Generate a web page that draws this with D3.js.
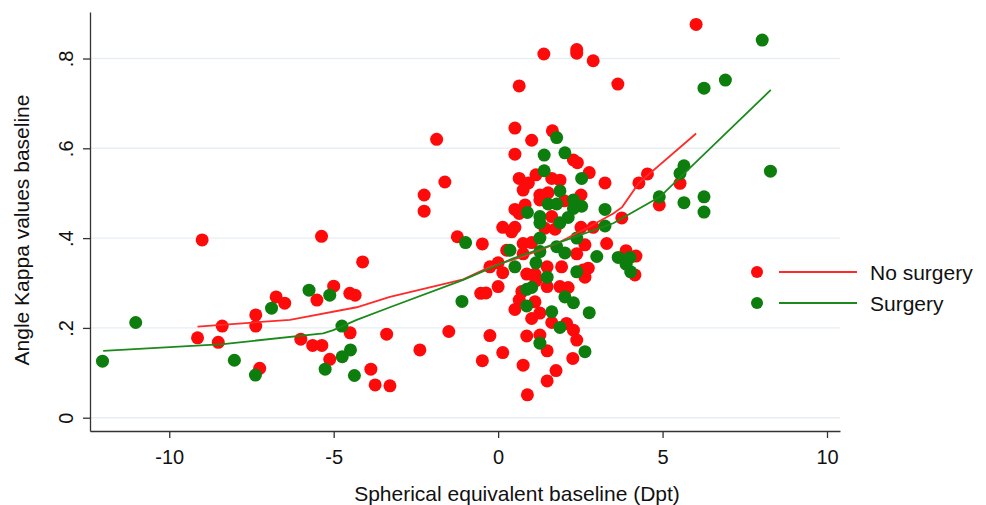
<!DOCTYPE html>
<html>
<head>
<meta charset="utf-8">
<script src="https://cdn.jsdelivr.net/npm/d3@7"></script>
<style>
	body { margin: 0; background: #fff; }
	text { font-family: "Liberation Sans", Arial, Helvetica, sans-serif; fill: #111; }
</style>
</head>
<body>
<div id="chart"></div>
<script>
	//tick values and labels
	var xTicks = [-10, -5, 0, 5, 10];
	var yTicks = [0, 0.2, 0.4, 0.6, 0.8];
	var yTickLabels = ["0", ".2", ".4", ".6", ".8"];

	//series names
	var seriesNames = ["No surgery", "Surgery"];

	//no surgery: [spherical equivalent, angle kappa]
	var noSurgeryPts = [
		[-9.00,0.396],[-9.14,0.178],[-8.39,0.204],[-8.51,0.168],[-7.37,0.229],[-7.37,0.204],[-7.25,0.110],
		[-6.75,0.269],[-6.49,0.255],[-5.51,0.262],[-5.37,0.404],[-5.00,0.293],[-4.51,0.277],[-4.35,0.273],
		[-4.12,0.347],[-6.00,0.175],[-5.64,0.161],[-5.36,0.161],[-5.12,0.130],[-4.50,0.189],[-3.87,0.108],
		[-3.74,0.073],[-3.39,0.186],[-3.29,0.071],[-1.87,0.620],[-1.62,0.525],[-2.25,0.496],[-2.25,0.460],
		[-1.24,0.403],[-0.48,0.387],[-1.50,0.192],[-2.38,0.151],[-0.25,0.183],[-0.48,0.127],[0.14,0.145],
		[-0.53,0.277],[-0.37,0.278],[0.00,0.292],[-0.25,0.336],[0.00,0.345],[0.14,0.323],[0.26,0.373],
		[0.14,0.424],[0.41,0.414],[0.51,0.424],[0.51,0.464],[0.64,0.455],[0.82,0.474],[0.76,0.507],
		[0.64,0.533],[0.92,0.523],[1.15,0.541],[1.63,0.533],[1.88,0.529],[1.27,0.496],[1.52,0.501],
		[2.01,0.483],[2.52,0.496],[0.51,0.587],[0.51,0.645],[1.02,0.618],[1.65,0.639],[2.29,0.574],
		[2.41,0.568],[2.77,0.546],[3.25,0.523],[1.27,0.485],[1.63,0.448],[1.42,0.422],[1.73,0.420],
		[2.52,0.424],[2.89,0.424],[0.76,0.388],[1.02,0.390],[2.64,0.385],[3.30,0.388],[2.39,0.365],
		[3.76,0.445],[4.28,0.523],[4.54,0.543],[5.53,0.522],[4.90,0.474],[3.89,0.372],[4.19,0.360],
		[4.16,0.318],[6.02,0.876],[2.39,0.820],[2.39,0.812],[2.89,0.795],[3.64,0.743],[0.64,0.739],
		[1.39,0.810],[0.87,0.320],[1.12,0.320],[1.49,0.336],[2.58,0.329],[2.74,0.333],[2.64,0.313],
		[1.15,0.305],[1.49,0.292],[1.88,0.292],[2.13,0.290],[0.72,0.281],[0.64,0.262],[1.12,0.258],
		[0.51,0.241],[1.02,0.221],[1.27,0.233],[1.63,0.212],[2.08,0.210],[2.29,0.195],[2.39,0.173],
		[0.87,0.182],[1.27,0.184],[1.49,0.149],[2.27,0.132],[0.76,0.117],[1.76,0.105],[1.49,0.082],
		[0.89,0.051],[0.76,0.365],[1.93,0.336]
	];

	//surgery: [spherical equivalent, angle kappa]
	var surgeryPts = [
		[-11.02,0.212],[-12.03,0.126],[-8.02,0.128],[-7.38,0.095],[-6.89,0.244],[-5.75,0.284],[-5.12,0.273],
		[-4.75,0.204],[-4.49,0.151],[-4.74,0.136],[-4.37,0.094],[-5.26,0.108],[-0.99,0.390],[-1.10,0.259],
		[1.78,0.624],[1.40,0.585],[2.03,0.590],[1.40,0.550],[2.54,0.533],[1.88,0.505],[1.52,0.476],
		[1.78,0.476],[2.29,0.485],[2.54,0.471],[2.29,0.466],[0.89,0.457],[1.27,0.448],[1.27,0.434],
		[1.88,0.434],[2.13,0.446],[3.25,0.464],[3.25,0.427],[1.27,0.400],[2.39,0.400],[0.36,0.373],
		[1.27,0.370],[1.78,0.381],[2.03,0.367],[3.00,0.359],[1.15,0.345],[0.51,0.336],[1.49,0.313],
		[2.39,0.325],[0.87,0.286],[1.02,0.290],[2.03,0.269],[2.29,0.256],[0.87,0.249],[1.63,0.236],
		[1.88,0.201],[2.77,0.234],[1.27,0.166],[2.64,0.147],[8.03,0.841],[6.26,0.734],[6.91,0.752],
		[8.28,0.549],[5.65,0.561],[5.53,0.544],[4.90,0.492],[5.65,0.479],[6.26,0.492],[6.26,0.458],
		[3.65,0.357],[4.01,0.357],[3.89,0.342],[4.03,0.325]
	];

	//fitted curves
	var noSurgeryFit = [
		[-9.14,0.203],[-6.33,0.218],[-4.30,0.246],[-3.29,0.269],[-1.06,0.308],[-0.25,0.336],
		[0.76,0.359],[1.78,0.388],[2.69,0.422],[3.50,0.455],[3.77,0.469],[4.28,0.523],[6.02,0.633]
	];
	var surgeryFit = [
		[-12.01,0.149],[-8.36,0.164],[-5.32,0.188],[-5.01,0.195],[-4.30,0.218],[-3.29,0.246],
		[-1.06,0.307],[0.46,0.355],[2.08,0.396],[3.50,0.433],[4.92,0.492],[8.29,0.730]
	];

	var width = 986,
		height = 505,
		plotLeft = 90,
		plotRight = 840,
		plotTop = 12,
		plotBottom = 431;

	var red = "#fe0a0a",
		green = "#0d7d0d",
		redLine = "#ff2a2a",
		greenLine = "#1a8a1a";

	var svg = d3.select("#chart").append("svg")
		.attr("width", width)
		.attr("height", height);

	//scales
	var x = d3.scaleLinear().domain([-12.41, 10.395]).range([plotLeft, plotRight]);
	var y = d3.scaleLinear().domain([-0.0296, 0.9036]).range([plotBottom, plotTop]);

	//gridlines
	svg.append("g").selectAll("line")
		.data(yTicks)
		.enter()
		.append("line")
		.attr("x1", plotLeft)
		.attr("x2", plotRight)
		.attr("y1", function(d){ return y(d); })
		.attr("y2", function(d){ return y(d); })
		.attr("stroke", "#e7eef4")
		.attr("stroke-width", 1.4);

	//x axis
	var xAxis = svg.append("g")
		.attr("transform", "translate(0," + plotBottom + ")")
		.call(d3.axisBottom(x).tickValues(xTicks).tickSize(7).tickSizeOuter(0).tickPadding(12)
			.tickFormat(function(d){ return d3.format("d")(d).replace("\u2212", "-"); }));

	//y axis
	var yAxis = svg.append("g")
		.attr("transform", "translate(" + plotLeft + ",0)")
		.call(d3.axisLeft(y).tickValues(yTicks).tickSize(7).tickSizeOuter(0)
			.tickFormat(function(d, i){ return yTickLabels[i]; }));

	yAxis.selectAll(".tick text")
		.attr("transform", "rotate(-90)")
		.attr("x", 0)
		.attr("y", -17)
		.attr("dy", 0)
		.attr("text-anchor", "middle");

	[xAxis, yAxis].forEach(function(a){
		a.selectAll("path, line").attr("stroke", "#333").attr("stroke-width", 1.3);
		a.selectAll("text").style("font-size", "20px").attr("fill", "#111");
		a.attr("font-family", null);
	});

	//axis titles
	svg.append("text")
		.attr("x", 517)
		.attr("y", 501)
		.attr("text-anchor", "middle")
		.style("font-size", "21px")
		.text("Spherical equivalent baseline (Dpt)");

	svg.append("text")
		.attr("transform", "translate(29,230) rotate(-90)")
		.attr("text-anchor", "middle")
		.style("font-size", "21px")
		.text("Angle Kappa values baseline");

	//points, no surgery under surgery
	svg.append("g").selectAll("circle")
		.data(noSurgeryPts)
		.enter()
		.append("circle")
		.attr("cx", function(d){ return x(d[0]); })
		.attr("cy", function(d){ return y(d[1]); })
		.attr("r", 6.5)
		.attr("fill", red);

	svg.append("g").selectAll("circle")
		.data(surgeryPts)
		.enter()
		.append("circle")
		.attr("cx", function(d){ return x(d[0]); })
		.attr("cy", function(d){ return y(d[1]); })
		.attr("r", 6.5)
		.attr("fill", green);

	//fitted lines
	var line = d3.line()
		.x(function(d){ return x(d[0]); })
		.y(function(d){ return y(d[1]); });

	svg.append("path")
		.attr("d", line(noSurgeryFit))
		.attr("fill", "none")
		.attr("stroke", redLine)
		.attr("stroke-width", 1.8);

	svg.append("path")
		.attr("d", line(surgeryFit))
		.attr("fill", "none")
		.attr("stroke", greenLine)
		.attr("stroke-width", 1.8);

	//legend
	var legend = svg.append("g").attr("transform", "translate(757,272)");
	var colors = [[red, redLine], [green, greenLine]];

	seriesNames.forEach(function(name, i){
		var row = legend.append("g").attr("transform", "translate(0," + (i * 31) + ")");
		row.append("circle").attr("r", 6).attr("fill", colors[i][0]);
		row.append("line")
			.attr("x1", 22).attr("x2", 100)
			.attr("stroke", colors[i][1])
			.attr("stroke-width", 1.8);
		row.append("text")
			.attr("x", 113)
			.attr("y", 8)
			.style("font-size", "21px")
			.text(name);
	});
</script>
</body>
</html>
